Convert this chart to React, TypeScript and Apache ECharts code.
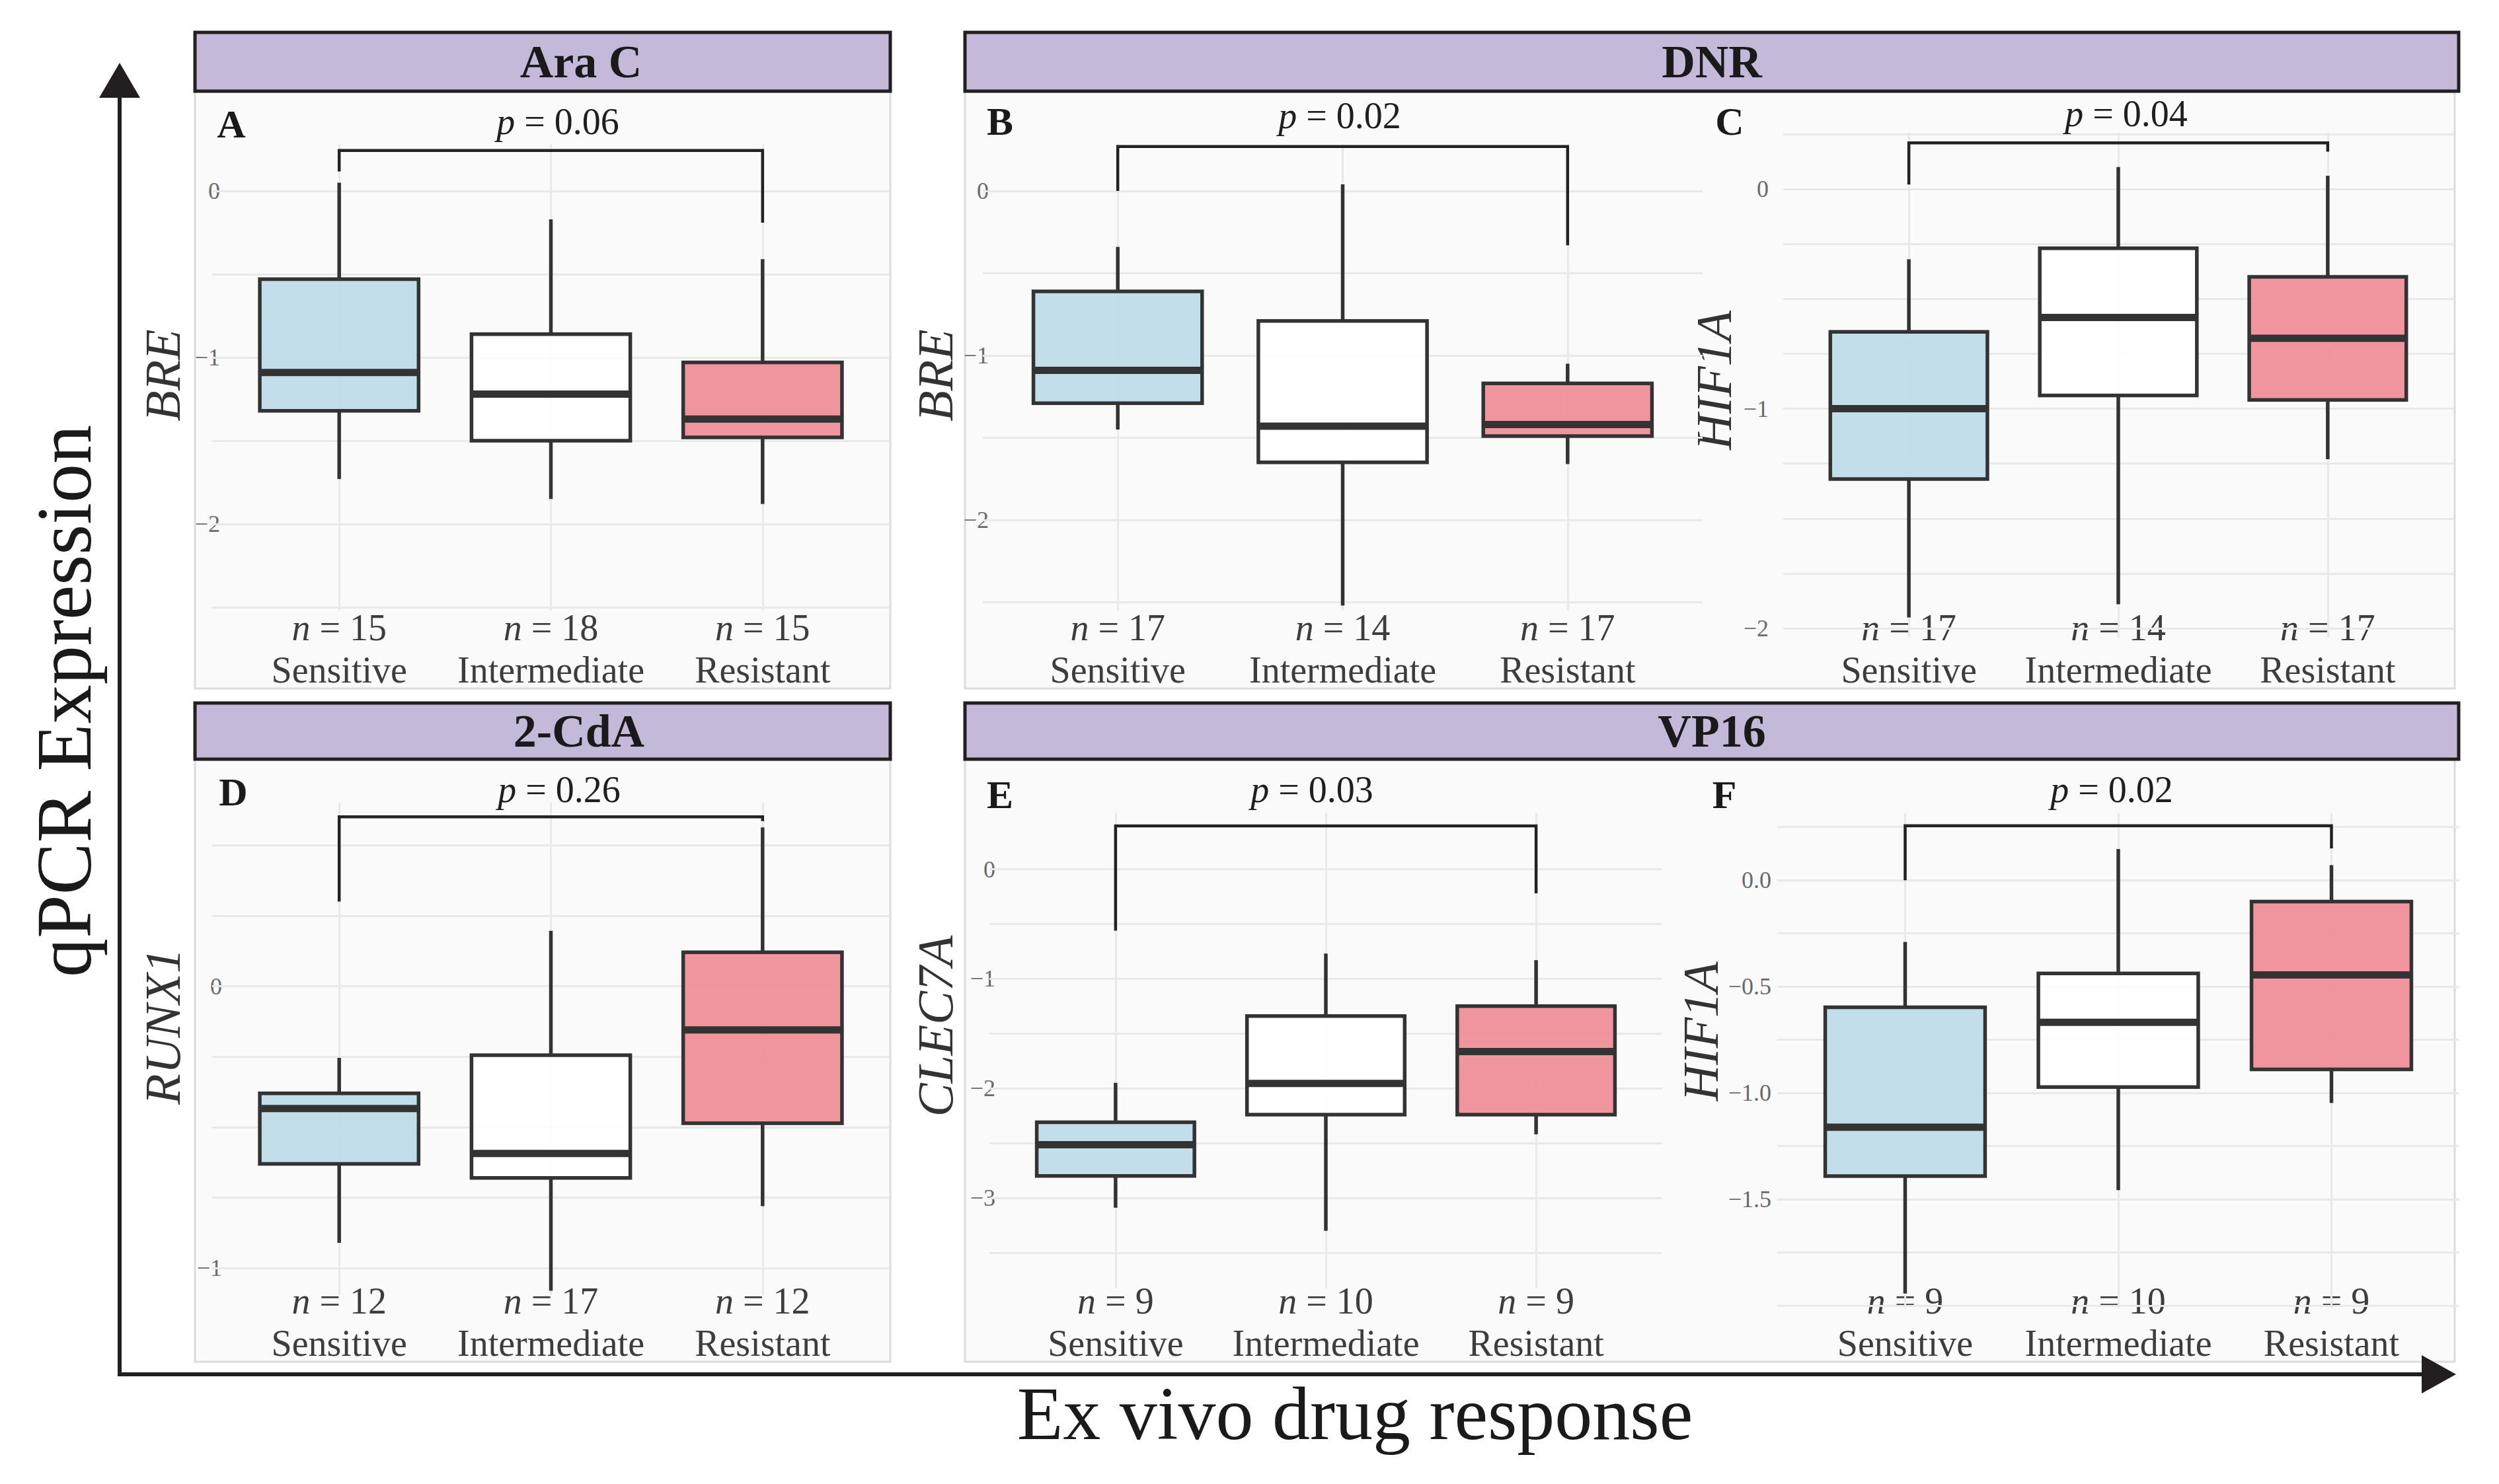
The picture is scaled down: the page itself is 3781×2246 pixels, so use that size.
import React, { useEffect, useRef } from "react";
import * as echarts from "echarts";

// ---------------- data ----------------
const categories = ["Sensitive", "Intermediate", "Resistant"];
const stripTitles = ["Ara C", "DNR", "2-CdA", "VP16"];
const panelLetters = ["A", "B", "C", "D", "E", "F"];
const genes = ["BRE", "BRE", "HIF1A", "RUNX1", "CLEC7A", "HIF1A"];
const pValues = ["0.06", "0.02", "0.04", "0.26", "0.03", "0.02"];
const nCounts = [
  [15, 18, 15],
  [17, 14, 17],
  [17, 14, 17],
  [12, 17, 12],
  [9, 10, 9],
  [9, 10, 9],
];

// box statistics per group: [min, Q1, median, Q3, max]
const boxA = [
  [-1.73, -1.32, -1.09, -0.53, 0.05],
  [-1.85, -1.5, -1.22, -0.86, -0.17],
  [-1.88, -1.48, -1.37, -1.03, -0.41],
];
const boxB = [
  [-1.45, -1.29, -1.09, -0.61, -0.34],
  [-2.52, -1.65, -1.43, -0.79, 0.04],
  [-1.66, -1.49, -1.42, -1.17, -1.05],
];
const boxC = [
  [-1.95, -1.32, -1.0, -0.65, -0.32],
  [-1.89, -0.94, -0.585, -0.27, 0.1],
  [-1.23, -0.96, -0.68, -0.4, 0.06],
];
const boxD = [
  [-0.91, -0.63, -0.434, -0.38, -0.254],
  [-1.08, -0.68, -0.593, -0.245, 0.196],
  [-0.78, -0.486, -0.155, 0.12, 0.5625],
];
const boxE = [
  [-3.09, -2.8, -2.515, -2.31, -1.95],
  [-3.3, -2.24, -1.955, -1.34, -0.77],
  [-2.42, -2.24, -1.665, -1.25, -0.83],
];
const boxF = [
  [-1.943, -1.391, -1.161, -0.597, -0.29],
  [-1.457, -0.972, -0.668, -0.438, 0.147],
  [-1.047, -0.889, -0.445, -0.1, 0.071],
];
const boxes = [boxA, boxB, boxC, boxD, boxE, boxF];

// significance brackets: [top, left end, right end]
const brackets = [
  [0.243, 0.117, -0.19],
  [0.27, 0.0, -0.33],
  [0.21, 0.02, 0.17],
  [0.6, 0.3, 0.585],
  [0.395, -0.56, -0.22],
  [0.256, 0.0, 0.15],
];

// grid lines and labelled ticks
const gridA = [0, -0.5, -1, -1.5, -2, -2.5];
const gridB = [0, -0.5, -1, -1.5, -2, -2.5];
const gridC = [0.25, 0, -0.25, -0.5, -0.75, -1, -1.25, -1.5, -1.75, -2];
const gridD = [0.5, 0.25, 0, -0.25, -0.5, -0.75, -1];
const gridE = [0, -0.5, -1, -1.5, -2, -2.5, -3, -3.5];
const gridF = [0.25, 0, -0.25, -0.5, -0.75, -1, -1.25, -1.5, -1.75, -2];
const gridValues = [gridA, gridB, gridC, gridD, gridE, gridF];

const ticksA = [0, -1, -2];
const ticksB = [0, -1, -2];
const ticksC = [0, -1, -2];
const ticksD = [0, -1];
const ticksE = [0, -1, -2, -3];
const ticksF = [0, -0.5, -1, -1.5];
const tickValues = [ticksA, ticksB, ticksC, ticksD, ticksE, ticksF];
const tickDecimals = [0, 0, 0, 0, 0, 1];
const xPositions = [1, 2, 3];

// ---------------- layout / style ----------------
const W = 3781;
const H = 2246;
const FONT = "'Liberation Serif', 'Times New Roman', serif";
const STROKE = "#333333";
const FILLS = ["rgba(190,219,234,0.93)", "rgba(255,255,255,0.9)", "rgba(239,141,151,0.93)"];
const GRIDLINE = "#ebe8ea";
const PANEL_BG = "#fbfafb";
const STRIP_FILL = "#c5b9d9";

const layouts = [
  { left: 321, right: 1346, top: 218, bottom: 924, min: -2.52, max: 0.282, xm: -6, ym: -12, gap: 37, shift: 3, letter: [350, 188], p: [844, 184] },
  { left: 1487, right: 2576, top: 218, bottom: 924, min: -2.55, max: 0.285, xm: -6, ym: -9, gap: 34, shift: 3, letter: [1513, 184], p: [2027, 175] },
  { left: 2698, right: 3712, top: 200, bottom: 965, min: -2.042, max: 0.2586, xm: -47, ym: 22, gap: 67, shift: 7, letter: [2617, 184], p: [3217, 172] },
  { left: 321, right: 1346, top: 1215, bottom: 1960, min: -1.095, max: 0.65, xm: -23, ym: -15, gap: 37, shift: 34, letter: [353, 1199], p: [846, 1195] },
  { left: 1497, right: 2515, top: 1230, bottom: 1950, min: -3.827, max: 0.516, xm: -13, ym: -9, gap: 44, shift: 37, letter: [1513, 1203], p: [1985, 1195] },
  { left: 2689, right: 3721, top: 1230, bottom: 1980, min: -2.012, max: 0.3175, xm: -43, ym: 9, gap: 58, shift: 44, letter: [2609, 1203], p: [3195, 1195] },
];

const panelBgs = [
  [295, 138, 1347, 1042],
  [1460, 138, 3714, 1042],
  [295, 1149, 1347, 2061],
  [1460, 1149, 3714, 2061],
];
const strips = [
  [295, 49, 1347, 138, 879],
  [1460, 49, 3720, 138, 2590],
  [295, 1064, 1347, 1149, 876],
  [1460, 1064, 3720, 1149, 2590],
];

const minus = (v: number, d: number) => {
  const s = Math.abs(v).toFixed(d);
  return v < -1e-9 ? "\u2212" + s : s;
};

function buildOption() {
  const grid: any[] = [];
  const xAxis: any[] = [];
  const yAxis: any[] = [];
  const series: any[] = [];
  const graphic: any[] = [];

  panelBgs.forEach(([x1, y1, x2, y2]) => {
    graphic.push({
      type: "rect",
      z: -10,
      shape: { x: x1, y: y1, width: x2 - x1, height: y2 - y1 },
      style: { fill: PANEL_BG, stroke: "#dddbdd", lineWidth: 3 },
      silent: true,
    });
  });
  strips.forEach(([x1, y1, x2, y2], i) => {
    graphic.push({
      type: "rect",
      z: 10,
      shape: { x: x1, y: y1, width: x2 - x1, height: y2 - y1 },
      style: { fill: STRIP_FILL, stroke: "#231f20", lineWidth: 5 },
      silent: true,
    });
    graphic.push({
      type: "text",
      z: 11,
      x: strips[i][4],
      y: (y1 + y2) / 2,
      style: {
        text: stripTitles[i],
        fontFamily: FONT,
        fontWeight: "bold",
        fontSize: 70,
        fill: "#1a1a1a",
        align: "center",
        verticalAlign: "middle",
      },
      silent: true,
    });
  });

  layouts.forEach((L, i) => {
    grid.push({
      left: L.left,
      top: L.top,
      width: L.right - L.left,
      height: L.bottom - L.top,
      containLabel: false,
    });
    xAxis.push({
      type: "value",
      gridIndex: i,
      min: 0.4,
      max: 3.6,
      axisLine: { show: false },
      axisTick: { show: false },
      splitLine: { show: false },
      axisLabel: {
        customValues: xPositions,
        margin: L.xm,
        lineHeight: 64,
        formatter: (v: number) => {
          const k = Math.round(v) - 1;
          if (Math.abs(v - Math.round(v)) > 1e-6 || k < 0 || k > 2) return "";
          return `{i|n}{r| = ${nCounts[i][k]}}\n{r|${categories[k]}}`;
        },
        rich: {
          i: { fontFamily: FONT, fontStyle: "italic", fontSize: 56, color: "#3d3d3d", lineHeight: 64 },
          r: { fontFamily: FONT, fontSize: 56, color: "#3d3d3d", lineHeight: 64 },
        },
      },
    });
    yAxis.push({
      type: "value",
      gridIndex: i,
      min: L.min,
      max: L.max,
      axisLine: { show: false },
      axisTick: { show: false },
      splitLine: { show: false },
      name: genes[i],
      nameLocation: "middle",
      nameRotate: 90,
      nameGap: L.gap,
      nameTextStyle: {
        fontFamily: FONT,
        fontStyle: "italic",
        fontSize: 76,
        color: "#333333",
        padding: [0, 0, 0, 2 * L.shift],
      },
      axisLabel: {
        customValues: tickValues[i],
        margin: L.ym,
        fontFamily: FONT,
        fontSize: 36,
        color: "#6a6a6a",
        formatter: (v: number) => {
          const ok = tickValues[i].some((t) => Math.abs(t - v) < 1e-6);
          return ok ? minus(v, tickDecimals[i]) : "";
        },
      },
    });

    // grid lines (through the axes' scales)
    series.push({
      type: "line",
      xAxisIndex: i,
      yAxisIndex: i,
      data: [],
      silent: true,
      z: 1,
      markLine: {
        z: 1,
        silent: true,
        animation: false,
        symbol: ["none", "none"],
        label: { show: false },
        emphasis: { disabled: true },
        lineStyle: { color: GRIDLINE, width: 3, type: "solid" },
        data: [
          ...gridValues[i].map((v) => ({ yAxis: v })),
          ...xPositions.map((v) => ({ xAxis: v })),
        ],
      },
    });

    // boxes
    series.push({
      type: "custom",
      xAxisIndex: i,
      yAxisIndex: i,
      z: 3,
      silent: true,
      encode: { x: 0, y: [1, 2, 3, 4, 5] },
      data: boxes[i].map((b, k) => [xPositions[k], ...b, k]),
      renderItem: (params: any, api: any) => {
        const x = api.value(0);
        const k = api.value(6);
        const pMin = api.coord([x, api.value(1)]);
        const pQ1 = api.coord([x, api.value(2)]);
        const pMed = api.coord([x, api.value(3)]);
        const pQ3 = api.coord([x, api.value(4)]);
        const pMax = api.coord([x, api.value(5)]);
        const w = api.size([0.75, 0])[0];
        const cx = pMed[0];
        const ls = { stroke: STROKE, lineWidth: 5.5 };
        return {
          type: "group",
          children: [
            { type: "line", shape: { x1: cx, y1: pMax[1], x2: cx, y2: pQ3[1] }, style: ls },
            { type: "line", shape: { x1: cx, y1: pQ1[1], x2: cx, y2: pMin[1] }, style: ls },
            {
              type: "rect",
              shape: { x: cx - w / 2, y: pQ3[1], width: w, height: pQ1[1] - pQ3[1] },
              style: { fill: FILLS[k], stroke: STROKE, lineWidth: 5.5 },
            },
            {
              type: "line",
              shape: { x1: cx - w / 2 + 2, y1: pMed[1], x2: cx + w / 2 - 2, y2: pMed[1] },
              style: { stroke: STROKE, lineWidth: 11 },
            },
          ],
        };
      },
    });

    // bracket
    series.push({
      type: "custom",
      xAxisIndex: i,
      yAxisIndex: i,
      z: 4,
      silent: true,
      clip: false,
      encode: { x: [0, 1], y: [2, 3, 4] },
      data: [[xPositions[0], xPositions[2], ...brackets[i]]],
      renderItem: (params: any, api: any) => {
        const a = api.coord([api.value(0), api.value(3)]);
        const b = api.coord([api.value(0), api.value(2)]);
        const c = api.coord([api.value(1), api.value(2)]);
        const d = api.coord([api.value(1), api.value(4)]);
        return {
          type: "polyline",
          shape: { points: [a, b, c, d] },
          style: { stroke: "#222222", lineWidth: 4.5, fill: "none" },
        };
      },
    });

    graphic.push({
      type: "text",
      z: 11,
      x: L.letter[0],
      y: L.letter[1],
      style: {
        text: panelLetters[i],
        fontFamily: FONT,
        fontWeight: "bold",
        fontSize: 60,
        fill: "#1a1a1a",
        align: "center",
        verticalAlign: "middle",
      },
      silent: true,
    });
    graphic.push({
      type: "text",
      z: 11,
      x: L.p[0],
      y: L.p[1],
      style: {
        text: `{i|p}{r| = ${pValues[i]}}`,
        align: "center",
        verticalAlign: "middle",
        rich: {
          i: { fontFamily: FONT, fontStyle: "italic", fontSize: 56, fill: "#1f1f1f" },
          r: { fontFamily: FONT, fontSize: 56, fill: "#1f1f1f" },
        },
      },
      silent: true,
    });
  });

  // outer axes arrows
  const AX = "#231f20";
  graphic.push(
    { type: "line", z: 12, shape: { x1: 181, y1: 2083, x2: 181, y2: 140 }, style: { stroke: AX, lineWidth: 6 }, silent: true },
    { type: "polygon", z: 12, shape: { points: [[181, 95], [150, 148], [212, 148]] }, style: { fill: AX }, silent: true },
    { type: "line", z: 12, shape: { x1: 178, y1: 2080, x2: 3670, y2: 2080 }, style: { stroke: AX, lineWidth: 6 }, silent: true },
    { type: "polygon", z: 12, shape: { points: [[3716, 2080], [3664, 2051], [3664, 2109]] }, style: { fill: AX }, silent: true },
    {
      type: "text",
      z: 12,
      x: 97,
      y: 1061,
      rotation: Math.PI / 2,
      style: { text: "qPCR Expression", fontFamily: FONT, fontSize: 118, fill: "#1a1a1a", align: "center", verticalAlign: "middle" },
      silent: true,
    },
    {
      type: "text",
      z: 12,
      x: 2050,
      y: 2139,
      style: { text: "Ex vivo drug response", fontFamily: FONT, fontSize: 114, fill: "#1a1a1a", align: "center", verticalAlign: "middle" },
      silent: true,
    }
  );

  return {
    animation: false,
    backgroundColor: "#ffffff",
    grid,
    xAxis,
    yAxis,
    series,
    graphic: { elements: graphic },
  };
}

export default function App() {
  const ref = useRef<HTMLDivElement>(null);
  useEffect(() => {
    if (!ref.current) return;
    const chart = echarts.init(ref.current, undefined, { renderer: "svg", width: W, height: H });
    chart.setOption(buildOption() as any);
    return () => chart.dispose();
  }, []);
  return (
    <div
      ref={ref}
      style={{ position: "absolute", left: 0, top: 0, width: W, height: H, background: "#ffffff" }}
    />
  );
}
